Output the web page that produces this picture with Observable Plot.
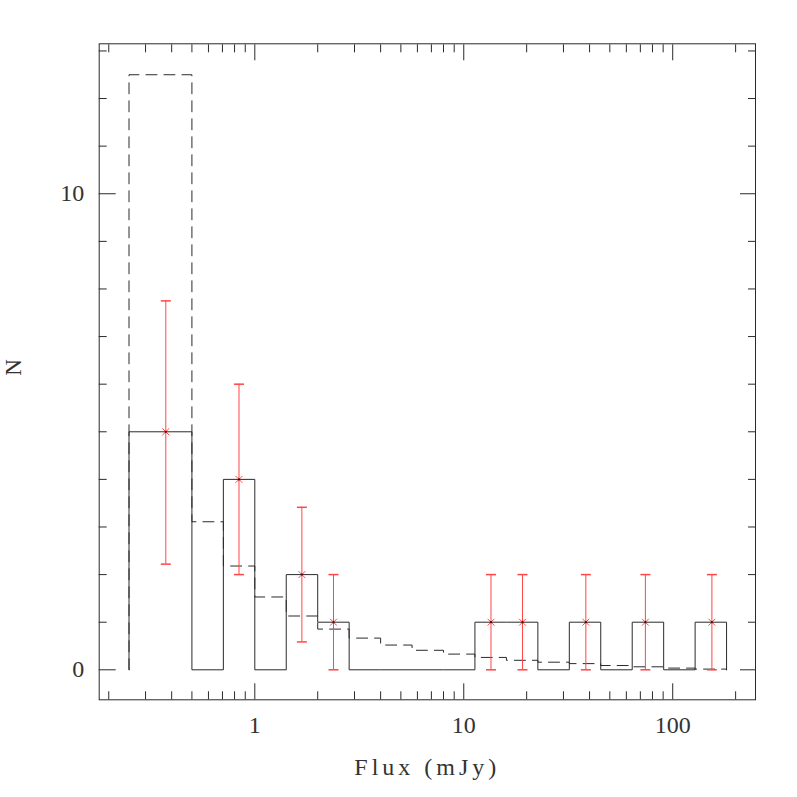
<!DOCTYPE html>
<html>
<head>
<meta charset="utf-8">
<script src="https://cdn.jsdelivr.net/npm/d3@7"></script>
<script src="https://cdn.jsdelivr.net/npm/@observablehq/plot@0.6"></script>
<style>
  html, body { margin: 0; padding: 0; background: #fff; }
</style>
</head>
<body>
<script>
// Bin edges (mJy) shared by both histograms
const binEdges = [0.25, 0.5, 0.7071, 1, 1.414, 2, 2.828, 4, 5.657, 8, 11.31, 16, 22.63, 32, 45.25, 64, 90.51, 128, 181];
// Solid histogram counts per bin
const solidCounts = [5, 0, 4, 0, 2, 1, 0, 0, 0, 0, 1, 1, 0, 1, 0, 1, 0, 1];
// Dashed histogram (model) values per bin
const dashedCounts = [12.5, 3.11, 2.18, 1.53, 1.13, 0.855, 0.666, 0.52, 0.41, 0.33, 0.26, 0.20, 0.16, 0.13, 0.09, 0.063, 0.036, 0.015];

// Red points with error bars
const pointFlux = [0.375, 0.84, 1.68, 2.38, 13.5, 19.1, 38.4, 74, 154];
const pointN    = [5, 4, 2, 1, 1, 1, 1, 1, 1];
const pointLo   = [2.22, 2, 0.586, 0, 0, 0, 0, 0, 0];
const pointHi   = [7.75, 6, 3.414, 2, 2, 2, 2, 2, 2];

// Axis ticks
const xMajorTicks = [1, 10, 100];
const xMinorTicks = [0.2, 0.3, 0.4, 0.5, 0.6, 0.7, 0.8, 0.9, 2, 3, 4, 5, 6, 7, 8, 9, 20, 30, 40, 50, 60, 70, 80, 90, 200];
const yMajorTicks = [0, 10];
const yMinorTicks = [1, 2, 3, 4, 5, 6, 7, 8, 9, 11, 12, 13];

const xLabel = "Flux (mJy)";
const yLabel = "N";

function steps(edges, vals) {
  const pts = [{x: edges[0], y: 0}];
  vals.forEach((v, i) => pts.push({x: edges[i], y: v}));
  pts.push({x: edges[edges.length - 1], y: vals[vals.length - 1]});
  pts.push({x: edges[edges.length - 1], y: 0});
  return pts;
}

const solidPts = steps(binEdges, solidCounts);
const dashedPts = steps(binEdges, dashedCounts);
const points = pointFlux.map((f, i) => ({x: f, n: pointN[i], lo: pointLo[i], hi: pointHi[i]}));

const red = "#ff4646";
const ink = "#2a2a2a";
const capSymbol = {draw(ctx) { ctx.moveTo(-5, 0); ctx.lineTo(5, 0); }};
const blank = () => "";

const plot = Plot.plot({
  width: 797,
  height: 797,
  marginLeft: 98.7,
  marginRight: 42,
  marginTop: 43.3,
  marginBottom: 97.7,
  style: {fontFamily: "Liberation Serif", background: "#fff"},
  x: {type: "log", domain: [0.18, 249], label: null},
  y: {domain: [-0.63, 13.15], label: null},
  marks: [
    // axes: bottom
    Plot.axisX(xMajorTicks, {anchor: "bottom", tickSize: -16, tickPadding: 32, tickFormat: d => String(d), fontSize: 24, fill: "#333", stroke: ink, label: null}),
    Plot.axisX(xMinorTicks, {anchor: "bottom", tickSize: -8, tickFormat: blank, stroke: ink, label: null}),
    // top
    Plot.axisX(xMajorTicks, {anchor: "top", tickSize: -16, tickFormat: blank, stroke: ink, label: null}),
    Plot.axisX(xMinorTicks, {anchor: "top", tickSize: -8, tickFormat: blank, stroke: ink, label: null}),
    // left
    Plot.axisY(yMajorTicks, {anchor: "left", tickSize: -17, tickPadding: 32, tickFormat: d => String(d), fontSize: 24, fill: "#333", stroke: ink, label: null}),
    Plot.axisY(yMinorTicks, {anchor: "left", tickSize: -8, tickFormat: blank, stroke: ink, label: null}),
    // right
    Plot.axisY(yMajorTicks, {anchor: "right", tickSize: -16, tickFormat: blank, stroke: ink, label: null}),
    Plot.axisY(yMinorTicks, {anchor: "right", tickSize: -8, tickFormat: blank, stroke: ink, label: null}),
    Plot.frame({stroke: ink}),
    // histograms
    Plot.line(dashedPts, {x: "x", y: "y", curve: "step-after", stroke: ink, strokeWidth: 1, strokeDasharray: "11,7"}),
    Plot.line(solidPts, {x: "x", y: "y", curve: "step-after", stroke: ink, strokeWidth: 1}),
    // error bars
    Plot.ruleX(points, {x: "x", y1: "lo", y2: "hi", stroke: red, strokeWidth: 1}),
    Plot.dot(points, {x: "x", y: "lo", symbol: capSymbol, stroke: red, r: 5}),
    Plot.dot(points, {x: "x", y: "hi", symbol: capSymbol, stroke: red, r: 5}),
    Plot.dot(points, {x: "x", y: "n", symbol: "times", stroke: red, r: 3.2, strokeWidth: 1}),
    Plot.dot(points, {x: "x", y: "n", fill: "#500", r: 1.1, stroke: null}),
    // axis titles
    Plot.text([xLabel], {frameAnchor: "bottom", dy: 68, text: d => d, fontSize: 24, fill: "#333", lineAnchor: "middle"}),
    Plot.text([yLabel], {frameAnchor: "left", dx: -86, dy: 4, text: d => d, fontSize: 23, fill: "#333", rotate: -90, lineAnchor: "middle"})
  ]
});

d3.select(plot).selectAll("text").each(function() {
  const t = this.textContent;
  if (t === xLabel) d3.select(this).attr("letter-spacing", "4px");
});
d3.select(plot).selectAll("g[aria-label='x-axis tick-label'] text, g[aria-label='y-axis tick-label'] text").attr("letter-spacing", "2px");

document.body.appendChild(plot);
</script>
</body>
</html>
